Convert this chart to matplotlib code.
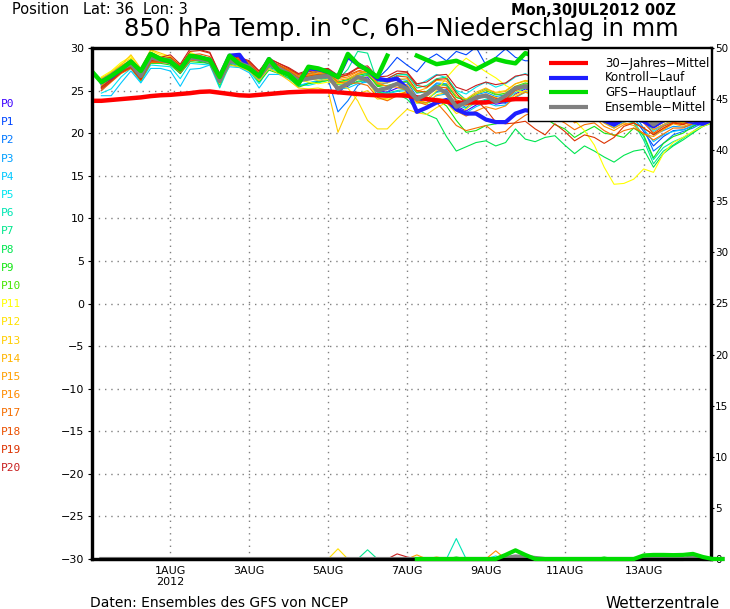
import numpy as np
import matplotlib
matplotlib.use('Agg')
import matplotlib.pyplot as plt
from matplotlib.patches import Rectangle

nan = np.nan

# forecast hours from 30JUL2012 00Z, 6-hourly
HOURS = np.arange(0, 385, 6)

# 850 hPa temperature of the 21 ensemble members, hours 6..384
P0 = [25.6, 26.5, 27.4, 28.0, 26.5, 28.8, 28.7, 28.4, 27.2, 29.0, 28.8, 28.3, 25.8, 28.7, 28.4, 27.6, 26.3, 28.3, 27.8, 26.9, 26.0, 26.6, 26.8, 26.9,
      25.0, 25.5, 26.4, 26.6, 25.0, 24.8, 25.3, 25.5, 23.8, 23.9, 24.9, 25.1, 23.2, 22.6, 23.3, 23.9, 23.4, 23.6, 24.6, 25.2,
      24.8, 24.0, 23.2, 23.0, 21.6, 22.5, 22.4, 21.7, 21.0, 21.8, 22.0, 21.3, 20.4, 21.0, 21.5, 21.2, 21.0, 21.6, 22.3, 22.7]
P1 = [25.0, 26.2, 27.2, 27.8, 26.4, 28.5, 28.4, 28.2, 27.0, 28.6, 28.9, 28.7, 26.4, 29.0, 28.6, 28.0, 26.9, 28.5, 27.9, 27.2, 26.6, 26.9, 27.2, 27.5,
      24.6, 25.9, 27.0, 27.3, 26.4, 27.5, 28.9, 28.0, 27.2, 28.6, 29.3, 28.5, 29.6, 29.2, 30.1, 28.0, 28.9, 29.9, 28.9, 28.5,
      28.5, 28.0, 27.2, 26.5, 25.0, 25.4, 25.0, 23.5, 22.6, 22.6, 21.8, 20.2, 18.5, 19.6, 20.3, 20.4, 20.8, 21.3, 21.8, 22.4]
P2 = [25.4, 26.6, 27.5, 28.3, 26.9, 29.1, 28.5, 28.2, 27.3, 28.8, 28.5, 28.1, 25.9, 28.2, 28.0, 27.5, 26.2, 27.9, 27.3, 26.6, 25.5, 25.9, 26.1, 26.3,
      22.5, 23.8, 25.6, 26.3, 24.4, 24.8, 25.9, 26.0, 24.3, 24.6, 25.8, 25.6, 23.7, 23.0, 23.9, 24.5, 23.8, 23.5, 24.2, 24.9,
      24.5, 24.0, 23.5, 23.0, 21.5, 22.8, 22.9, 22.0, 21.2, 22.0, 22.3, 20.6, 17.9, 18.8, 19.8, 20.2, 20.6, 21.2, 21.8, 22.2]
P3 = [25.8, 26.9, 27.8, 28.2, 26.8, 29.0, 28.8, 28.7, 27.7, 29.1, 28.8, 28.6, 26.3, 28.6, 28.3, 27.9, 26.8, 28.2, 27.5, 26.8, 26.1, 26.5, 26.7, 26.6,
      25.8, 26.0, 26.6, 26.9, 25.7, 25.9, 26.4, 26.2, 24.7, 24.9, 25.9, 25.8, 24.2, 23.8, 24.5, 24.8, 24.3, 24.5, 25.3, 25.8,
      25.5, 25.2, 24.6, 24.0, 22.6, 23.2, 23.5, 22.6, 22.0, 22.9, 23.1, 21.8, 19.8, 20.3, 20.8, 20.7, 21.0, 21.5, 22.0, 22.5]
P4 = [24.4, 24.4, 25.9, 27.3, 25.9, 27.6, 27.6, 27.3, 25.5, 27.5, 27.6, 28.0, 25.9, 27.8, 27.7, 27.1, 25.3, 26.9, 26.9, 26.4, 25.6, 25.9, 26.2, 26.5,
      25.2, 25.3, 25.8, 26.0, 24.8, 24.6, 24.9, 25.0, 23.5, 23.6, 24.4, 24.6, 23.0, 22.4, 23.1, 23.6, 23.2, 23.3, 24.2, 24.8,
      24.6, 24.1, 23.5, 22.9, 21.4, 22.0, 22.2, 21.2, 20.6, 21.3, 21.6, 20.5, 19.0, 19.8, 20.2, 20.4, 20.9, 21.4, 21.9, 22.3]
P5 = [24.7, 25.2, 26.6, 27.6, 26.0, 28.0, 27.9, 27.8, 26.4, 28.2, 28.1, 28.0, 25.3, 28.0, 27.8, 27.3, 25.8, 27.6, 27.2, 26.6, 25.7, 25.6, 25.9, 26.2,
      26.0, 26.2, 26.8, 27.1, 26.1, 26.4, 27.0, 26.8, 25.6, 26.2, 26.9, 26.5, 25.0, 24.6, 25.4, 26.0, 25.4, 25.8, 26.6, 27.0,
      26.5, 26.0, 25.3, 24.8, 23.4, 24.0, 24.1, 23.0, 22.4, 23.0, 23.2, 21.8, 20.2, 20.9, 21.4, 21.3, 21.7, 22.0, 22.4, 22.7]
P6 = [25.9, 26.8, 27.7, 28.4, 27.0, 29.2, 28.9, 28.6, 27.6, 28.7, 28.6, 28.4, 25.4, 28.3, 28.0, 27.7, 26.5, 27.9, 27.7, 27.2, 25.9, 26.6, 26.8, 27.0,
      25.4, 25.6, 26.0, 26.2, 24.9, 24.7, 25.0, 25.2, 23.9, 24.0, 24.8, 25.0, 23.3, 22.9, 23.6, 24.0, 23.7, 23.9, 24.8, 25.3,
      25.0, 24.4, 23.8, 23.4, 22.0, 22.6, 22.7, 21.6, 21.0, 21.6, 21.4, 19.6, 16.9, 18.3, 19.0, 19.5, 20.1, 20.8, 21.4, 21.8]
P7 = [26.0, 26.9, 27.9, 28.5, 27.2, 29.3, 28.9, 28.8, 27.9, 29.2, 29.0, 28.8, 26.5, 28.8, 28.5, 28.1, 27.0, 28.6, 28.0, 27.4, 26.7, 27.0, 27.3, 27.6,
      26.3, 27.5, 29.6, 29.4, 26.0, 26.2, 26.8, 26.9, 25.3, 25.6, 26.4, 26.6, 24.9, 23.9, 24.6, 25.2, 24.6, 24.4, 25.3, 25.7,
      25.3, 24.7, 24.2, 23.7, 22.3, 22.8, 22.6, 21.3, 20.8, 21.5, 21.2, 19.2, 16.4, 17.9, 18.6, 19.4, 20.2, 21.0, 21.6, 22.0]
P8 = [26.2, 27.0, 27.5, 28.0, 26.6, 28.6, 28.3, 28.3, 27.3, 28.7, 28.4, 28.4, 26.0, 28.4, 28.1, 27.7, 26.4, 27.7, 27.4, 26.9, 26.1, 26.3, 26.4, 26.5,
      25.7, 25.6, 26.1, 26.3, 24.9, 24.4, 24.6, 24.0, 22.8, 22.2, 21.7, 19.6, 17.9, 18.4, 18.9, 19.1, 18.5, 18.9, 20.5, 19.3,
      19.0, 19.5, 19.7, 18.6, 17.6, 18.5, 17.9, 17.2, 16.6, 17.4, 17.9, 18.1, 16.0, 17.6, 18.5, 19.2, 20.0, 20.8, 21.2, 21.5]
P9 = [25.5, 26.4, 27.2, 27.7, 26.2, 28.2, 28.2, 28.0, 27.0, 28.4, 28.3, 28.2, 25.7, 28.1, 27.8, 27.4, 26.0, 27.4, 27.0, 26.5, 25.4, 25.8, 26.0, 26.2,
      26.0, 26.3, 26.8, 27.0, 25.5, 25.3, 25.8, 25.5, 23.9, 23.5, 24.0, 23.2, 21.5, 20.1, 20.3, 20.9, 21.1, 21.4, 22.3, 22.7,
      22.5, 21.8, 21.0, 20.5, 19.5, 20.2, 20.8, 20.0, 19.8, 19.5, 20.6, 19.8, 17.1, 18.8, 19.6, 20.0, 20.8, 21.4, 21.8, 22.1]
P10 = [26.3, 27.1, 27.9, 28.4, 27.0, 29.0, 28.8, 28.7, 27.8, 29.0, 28.9, 28.7, 26.3, 28.7, 28.4, 28.0, 26.9, 28.3, 27.8, 27.2, 26.4, 26.7, 26.9, 27.0,
       25.9, 26.1, 26.5, 26.8, 25.6, 25.6, 25.9, 26.1, 24.8, 24.9, 25.6, 25.7, 24.2, 23.9, 24.6, 25.0, 24.5, 24.7, 25.5, 25.9,
       25.6, 25.0, 24.4, 24.1, 22.8, 23.5, 23.6, 22.6, 22.2, 22.8, 22.9, 21.9, 20.7, 21.3, 21.6, 21.3, 21.7, 22.2, 22.6, 22.9]
P11 = [26.6, 27.3, 28.3, 29.0, 27.4, 29.7, 29.2, 29.0, 28.0, 29.5, 29.0, 28.6, 26.0, 28.6, 28.3, 27.8, 26.5, 28.0, 27.6, 27.0, 26.3, 26.0, 25.8, 26.0,
       25.8, 25.9, 26.3, 26.2, 24.2, 23.9, 24.6, 24.9, 23.5, 23.9, 25.0, 26.5, 27.8, 28.8, 28.0, 27.2, 26.5, 25.6, 25.0, 24.8,
       24.6, 24.0, 23.0, 22.3, 21.5, 20.3, 18.6, 16.0, 14.0, 14.1, 14.6, 15.8, 15.4, 17.6, 18.9, 19.5, 20.2, 20.8, 21.3, 21.6]
P12 = [26.4, 27.2, 28.1, 28.8, 27.3, 29.5, 29.0, 28.9, 27.9, 29.3, 28.9, 28.5, 26.1, 28.4, 28.2, 27.9, 26.6, 28.1, 27.7, 27.1, 26.2, 26.4, 26.2, 26.3,
       25.5, 25.3, 23.8, 21.5, 20.5, 20.5, 21.7, 22.8, 22.4, 22.2, 23.0, 23.6, 22.3, 22.8, 24.0, 24.5, 24.2, 23.8, 24.5, 25.0,
       24.8, 24.4, 23.9, 23.6, 22.5, 23.0, 23.2, 22.2, 21.7, 22.3, 22.5, 21.6, 20.6, 21.3, 21.7, 21.4, 21.7, 22.1, 22.5, 22.7]
P13 = [26.5, 27.0, 28.0, 29.2, 27.6, 29.8, 29.4, 29.0, 27.6, 29.0, 28.6, 28.3, 25.8, 28.0, 27.8, 27.3, 26.2, 27.6, 27.0, 26.2, 25.3, 25.2, 25.3, 25.0,
       20.1, 22.8, 24.6, 25.0, 24.0, 24.1, 24.6, 24.7, 23.6, 23.5, 24.5, 24.8, 23.5, 23.6, 24.6, 25.1, 24.8, 25.0, 25.8, 26.1,
       25.8, 25.2, 24.6, 24.2, 23.0, 23.6, 23.7, 22.8, 22.3, 23.0, 23.1, 22.2, 21.0, 21.5, 21.9, 21.6, 21.9, 22.3, 22.6, 22.9]
P14 = [26.2, 27.0, 27.9, 28.6, 27.1, 29.3, 28.9, 28.6, 27.6, 29.0, 28.7, 28.5, 26.2, 28.5, 28.2, 27.8, 26.7, 28.2, 27.6, 27.1, 26.5, 26.6, 26.5, 26.7,
       25.9, 26.1, 26.9, 27.2, 25.9, 25.9, 26.3, 26.4, 24.9, 25.3, 26.2, 26.1, 24.4, 24.0, 24.8, 25.3, 24.7, 24.9, 25.8, 26.2,
       26.0, 25.5, 24.8, 24.5, 23.2, 23.9, 24.0, 23.0, 22.5, 22.9, 22.7, 21.6, 20.4, 21.0, 21.5, 21.2, 21.5, 22.0, 22.4, 22.7]
P15 = [25.9, 26.7, 27.6, 28.2, 26.6, 28.9, 28.6, 28.4, 27.4, 28.8, 28.6, 28.5, 26.2, 28.6, 28.4, 27.9, 26.8, 28.3, 27.9, 27.4, 26.5, 26.8, 27.0, 27.2,
       26.2, 26.4, 27.0, 27.2, 25.8, 25.5, 25.8, 25.7, 24.2, 24.3, 25.3, 25.4, 23.8, 23.2, 24.0, 24.5, 23.9, 24.0, 25.2, 25.7,
       25.4, 24.8, 24.0, 23.6, 22.1, 22.6, 22.4, 21.2, 20.6, 21.2, 20.9, 19.9, 19.6, 20.4, 21.1, 20.8, 21.2, 21.7, 22.2, 22.5]
P16 = [25.6, 26.4, 27.3, 27.9, 26.4, 28.6, 28.4, 28.5, 27.3, 28.7, 28.7, 28.6, 26.3, 28.8, 28.6, 28.1, 27.0, 28.4, 27.9, 27.4, 26.6, 26.9, 27.1, 27.2,
       26.4, 26.6, 27.2, 27.3, 25.9, 25.5, 25.4, 25.0, 23.8, 23.6, 24.1, 23.9, 22.6, 22.0, 22.6, 23.1, 22.8, 23.2, 24.3, 24.8,
       24.5, 23.8, 23.0, 22.5, 21.2, 21.9, 21.9, 20.8, 20.3, 21.0, 21.2, 20.6, 19.9, 20.5, 21.2, 21.0, 21.4, 21.9, 22.3, 22.6]
P17 = [25.0, 26.0, 27.0, 27.6, 26.2, 28.3, 28.3, 28.2, 27.1, 28.5, 28.6, 28.6, 26.6, 28.9, 28.7, 28.3, 27.0, 28.4, 28.0, 27.5, 26.8, 27.0, 27.3, 27.2,
       26.0, 25.8, 25.9, 25.6, 24.2, 23.8, 24.4, 24.9, 23.7, 23.3, 23.6, 22.3, 20.9, 20.3, 20.6, 20.9, 20.0, 20.2, 21.3, 22.1,
       22.6, 22.3, 21.8, 21.2, 20.4, 21.0, 21.2, 20.3, 19.7, 20.3, 20.6, 20.0, 19.2, 19.9, 20.6, 20.6, 21.1, 21.7, 22.2, 22.5]
P18 = [25.3, 26.3, 27.2, 27.8, 26.3, 28.4, 28.4, 28.6, 27.6, 29.2, 29.3, 29.0, 26.7, 28.9, 28.6, 28.2, 27.1, 28.5, 28.0, 27.3, 26.5, 26.7, 26.9, 27.0,
       26.6, 26.8, 27.3, 27.6, 26.3, 26.1, 26.7, 26.6, 25.0, 24.8, 25.5, 25.3, 23.9, 23.6, 24.3, 24.6, 24.1, 24.0, 25.0, 25.4,
       25.1, 24.6, 23.9, 23.4, 22.1, 22.8, 22.9, 22.0, 21.3, 22.0, 22.1, 21.2, 20.0, 20.8, 21.3, 21.1, 21.5, 22.0, 22.4, 22.7]
P19 = [25.2, 26.1, 27.1, 27.7, 26.3, 28.5, 28.7, 28.9, 27.9, 29.6, 29.7, 29.4, 26.9, 29.1, 28.8, 28.4, 27.3, 28.8, 28.2, 27.6, 26.9, 27.2, 27.4, 27.5,
       26.5, 26.9, 27.6, 27.7, 26.2, 26.4, 27.0, 27.1, 25.6, 25.4, 26.3, 26.4, 24.7, 23.4, 23.9, 22.8, 21.3, 21.1, 21.2, 21.4,
       20.5, 19.8, 21.1, 20.2, 19.1, 19.8, 19.5, 18.8, 19.5, 20.8, 21.2, 20.6, 19.8, 20.6, 21.2, 21.0, 21.5, 21.8, 22.0, 22.2]
P20 = [25.4, 26.3, 27.3, 27.9, 26.5, 28.7, 28.9, 29.2, 28.1, 29.9, 29.8, 29.5, 27.0, 29.2, 28.9, 28.5, 27.3, 28.7, 28.2, 27.7, 27.0, 27.4, 27.5, 27.6,
       26.8, 27.0, 27.7, 27.9, 26.6, 26.7, 27.3, 27.2, 25.8, 26.0, 26.8, 26.9, 25.4, 25.0, 25.6, 26.0, 25.7, 25.9, 26.7, 26.9,
       26.5, 26.0, 25.4, 24.9, 23.5, 24.2, 24.4, 23.5, 22.8, 23.5, 23.6, 22.6, 21.4, 21.9, 22.2, 21.9, 22.2, 22.5, 22.8, 23.0]
MEMBERS = [P0, P1, P2, P3, P4, P5, P6, P7, P8, P9, P10,
           P11, P12, P13, P14, P15, P16, P17, P18, P19, P20]
MEMBER_COLORS = ['#3c00ff', '#0046ff', '#0078ff', '#00a0ff', '#00c8ff', '#00e6f0',
                 '#00e6b4', '#00e68c', '#00e650', '#14e614', '#46e600', '#ffff00',
                 '#ffe100', '#ffcd00', '#ffb400', '#ffa000', '#ff8c00', '#f56e00',
                 '#eb5000', '#dc3200', '#c81e1e']

# control run and ensemble mean, hours 6..384
CONTROL = [26.0, 26.6, 27.5, 28.4, 27.2, 29.3, 28.7, 28.4, 27.5, 29.0, 28.9, 28.6, 26.6, 29.1, 29.2, 27.6, 26.7, 28.7, 27.4, 26.9, 25.9, 27.6, 27.5, 27.2,
           26.6, 29.0, 28.1, 27.4, 26.4, 26.2, 26.4, 25.2, 22.5, 23.0, 23.6, 23.9, 22.8, 22.3, 22.3, 21.6, 21.3, 21.3, 22.3, 22.7,
           22.5, 22.0, 21.6, 21.9, 21.8, 21.9, 21.8, 21.5, 21.0, 21.7, 21.8, 21.4, 20.8, 21.5, 21.8, 21.6, 21.3, 21.1, 21.6, 22.0]
ENS_MEAN = [26.1, 26.8, 27.6, 28.1, 26.7, 28.9, 28.6, 28.5, 27.5, 28.9, 28.7, 28.5, 26.1, 28.5, 28.2, 27.8, 26.6, 28.1, 27.6, 27.0, 26.2, 26.4, 26.6, 26.7,
            25.2, 25.8, 26.6, 26.2, 25.0, 25.3, 25.8, 25.2, 24.0, 24.6, 25.4, 24.7, 23.1, 23.6, 24.2, 24.4, 23.7, 24.4, 25.3, 25.5,
            25.0, 24.5, 23.8, 23.5, 22.2, 23.0, 23.0, 22.4, 21.8, 22.5, 22.6, 22.0, 21.0, 21.8, 22.0, 21.8, 21.5, 22.0, 22.5, 22.8]

# GFS main run and 30-year climate mean, hours 0..384
GFS_MAIN = [27.3, 26.0, 26.7, 27.5, 28.4, 27.3, 29.3, 28.7, 28.4, 27.5, 29.1, 28.9, 28.6, 26.6, 29.1, 28.1,
            27.6, 26.7, 28.7, 27.3, 26.9, 25.8, 27.8, 27.6, 27.2, 26.6, 29.3, 28.1, 27.4, 26.6, 29.1, nan,
            nan, 29.1, 28.6, 28.1, 28.3, 28.5, 28.0, 27.5, 28.1, 28.7, 28.4, 28.2, 29.4, 29.0, 28.6, 28.3,
            27.5, 28.2, 28.4, 28.0, 27.3, 27.8, 28.0, 27.5, 26.8, 27.3, 27.6, 27.3, 27.0, 27.4, 27.6, 27.8, 27.9]
CLIMATE = [23.8, 23.8, 23.9, 24.0, 24.1, 24.2, 24.35, 24.45, 24.5, 24.6, 24.7, 24.85, 24.9, 24.75, 24.6, 24.45,
           24.4, 24.5, 24.6, 24.7, 24.8, 24.85, 24.9, 24.9, 24.9, 24.8, 24.7, 24.6, 24.5, 24.45, 24.4, 24.45,
           24.4, 24.2, 24.0, 23.85, 23.7, 23.5, 23.6, 23.6, 23.6, 23.8, 23.9, 24.0, 24.0, 24.0, 24.0, 23.9,
           23.9, 23.8, 23.8, 23.7, 23.7, 23.6, 23.6, 23.5, 23.5, 23.4, 23.4, 23.3, 23.3, 23.2, 23.2, 23.1, 23.1]

# 6h precipitation (mm): member events as (member, step, mm), zero elsewhere
MEMBER_PRECIP = [(12, 25, 1.0), (7, 28, 0.9), (20, 31, 0.5), (20, 32, 0.2), (15, 33, 0.4),
                 (14, 35, 0.2), (6, 37, 2.0), (9, 37, 0.2), (16, 41, 0.8), (5, 41, 0.3), (9, 52, 0.2)]
MEAN_PRECIP = [(42, 0.1), (43, 0.25), (44, 0.2), (45, 0.1), (61, 0.2)]
GFS_PRECIP = [nan] * 33 + [0, 0, 0, 0, 0, 0, 0, 0, 0, 0.4, 0.85, 0.4, 0,
                           0, 0, 0, 0, 0, 0, 0, 0, 0, 0,
                           0.35, 0.4, 0.4, 0.38, 0.4, 0.5, 0.2, 0, 0]

XTICKS = [48, 96, 144, 192, 240, 288, 336]
XLABELS = ['1AUG\n2012', '3AUG', '5AUG', '7AUG', '9AUG', '11AUG', '13AUG']
LEGEND = [('30\u2212Jahres\u2212Mittel', '#ff0000'), ('Kontroll\u2212Lauf', '#1e1eff'),
          ('GFS\u2212Hauptlauf', '#00dc00'), ('Ensemble\u2212Mittel', '#808080')]

W, H = 730, 609
fig = plt.figure(figsize=(W / 100, H / 100), dpi=100)
fig.patch.set_facecolor('white')
ax = fig.add_axes([91.5 / W, 1 - 559 / H, (711 - 91.5) / W, (559 - 48) / H])
ax.set_xlim(0, 377)
ax.set_ylim(-30, 30)

# dotted grid
for y in range(-25, 30, 5):
    ax.axhline(y, color='#808080', lw=1.0, ls=(0, (1, 3.5)), zorder=0.5)
for x in XTICKS:
    ax.axvline(x, color='#808080', lw=1.0, ls=(0, (1, 3.5)), zorder=0.5)

h = HOURS[1:]
for vals, col in zip(MEMBERS, MEMBER_COLORS):
    ax.plot(h, vals, color=col, lw=0.8, zorder=1)
ax.plot(h, CONTROL, color='#1e1eff', lw=3, zorder=2)
ax.plot(HOURS, CLIMATE, color='#ff0000', lw=3.2, zorder=3)
ax.plot(h, ENS_MEAN, color='#808080', lw=3, zorder=4)
ax.plot(HOURS, GFS_MAIN, color='#00dc00', lw=3.2, zorder=5)

ax.set_yticks(range(-30, 31, 5))
ax.set_xticks(XTICKS)
ax.set_xticklabels(XLABELS, fontsize=8, linespacing=1.1)
ax.tick_params(axis='x', length=0, pad=5)
ax.tick_params(axis='y', direction='out', length=3, width=0.8, labelsize=8, pad=2)
for s in ax.spines.values():
    s.set_linewidth(2.3)

# precipitation on the right axis
ax2 = ax.twinx()
ax2.set_ylim(0, 50)
ax2.set_xlim(0, 377)
ax2.set_yticks(range(0, 51, 5))
ax2.tick_params(axis='y', direction='out', length=2, width=0.8, labelsize=7.5, pad=1)
for s in ax2.spines.values():
    s.set_linewidth(2.3)
for k, col in enumerate(MEMBER_COLORS):
    pr = np.zeros(len(HOURS))
    pr[0] = nan
    for m, i, mm in MEMBER_PRECIP:
        if m == k:
            pr[i] = mm
    ax2.plot(HOURS, pr, color=col, lw=0.8, zorder=1)
mean_pr = np.zeros(len(HOURS))
mean_pr[0] = nan
for i, mm in MEAN_PRECIP:
    mean_pr[i] = mm
ax2.plot(HOURS, mean_pr, color='#808080', lw=3, zorder=2, clip_on=False)
ax2.plot(HOURS, GFS_PRECIP, color='#00dc00', lw=3, zorder=3, clip_on=False)

# legend box
x0, y0 = (528 - 91.5) / 619.5, (559 - 121) / 511
ax2.add_patch(Rectangle((x0, y0), 1 - x0, 1 - y0, transform=ax2.transAxes,
                        facecolor='white', edgecolor='black', lw=1, zorder=20))
for n, (lab, col) in enumerate(LEGEND):
    yy = (559 - (63 + 14.7 * n)) / 511
    ax2.plot([0.7385, 0.8015], [yy, yy], color=col, lw=3, transform=ax2.transAxes,
             zorder=21, solid_capstyle='butt')
    ax2.text(0.829, yy, lab, transform=ax2.transAxes, fontsize=8.5,
             va='center', ha='left', zorder=22)

# member labels on the left
for k, col in enumerate(MEMBER_COLORS):
    fig.text(1 / W, 1 - (104 + 18.2 * k) / H, f'P{k}', color=col,
             fontsize=8, family='DejaVu Sans Mono', va='center', ha='left')

# header and footer
fig.text(12 / W, 1 - 10 / H, 'Position   Lat: 36  Lon: 3', fontsize=10.5, va='center')
fig.text(676 / W, 1 - 10 / H, 'Mon,30JUL2012 00Z', fontsize=10.5, fontweight='bold',
         va='center', ha='right')
fig.text(401 / W, 1 - 29 / H, '850 hPa Temp. in \u00b0C, 6h\u2212Niederschlag in mm',
         fontsize=17.5, va='center', ha='center')
fig.text(90 / W, 1 - 603 / H, 'Daten: Ensembles des GFS von NCEP', fontsize=10, va='center')
fig.text(720 / W, 1 - 603 / H, 'Wetterzentrale', fontsize=11, va='center', ha='right')

fig.savefig('out.png', dpi=100, facecolor='white')
